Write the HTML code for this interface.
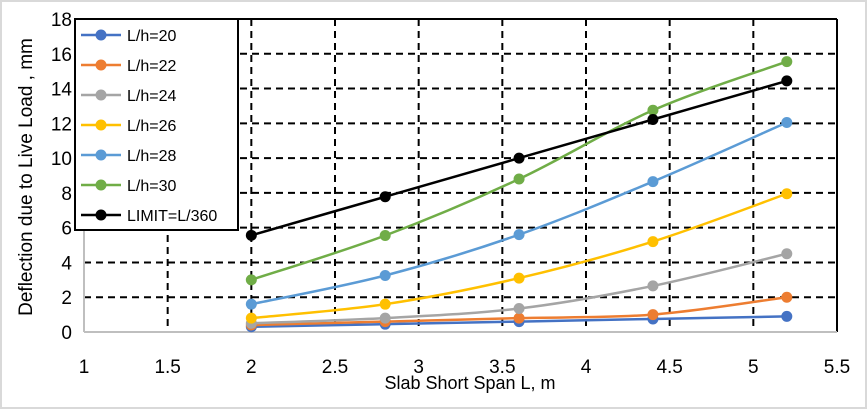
<!DOCTYPE html>
<html><head><meta charset="utf-8"><style>
html,body{margin:0;padding:0;background:#fff}
svg{display:block;font-family:"Liberation Sans",sans-serif}
</style></head><body>
<svg id="chart" width="867" height="409" viewBox="0 0 867 409" xmlns="http://www.w3.org/2000/svg">
<rect x="1" y="1" width="865" height="407" fill="#fff" stroke="#d9d9d9" stroke-width="2"/>
<g id="grid"></g>
<g id="series"></g>
<g id="ticks" font-size="19" fill="#000"></g>
<text x="470" y="389" font-size="18" text-anchor="middle">Slab Short Span L, m</text>
<text transform="translate(32,177) rotate(-90)" font-size="19" text-anchor="middle">Deflection due to Live Load , mm</text>
<g id="legend"></g>
</svg>
<script>
const xs = [2, 2.8, 3.6, 4.4, 5.2];
const names = ["L/h=20","L/h=22","L/h=24","L/h=26","L/h=28","L/h=30","LIMIT=L/360"];
const colors = ["#4472c4","#ed7d31","#a5a5a5","#ffc000","#5b9bd5","#70ad47","#000000"];
const s20 = [0.3, 0.45, 0.6, 0.75, 0.9];
const s22 = [0.4, 0.6, 0.8, 1.0, 2.0];
const s24 = [0.5, 0.8, 1.35, 2.65, 4.5];
const s26 = [0.8, 1.6, 3.1, 5.2, 7.95];
const s28 = [1.6, 3.25, 5.6, 8.65, 12.05];
const s30 = [3.0, 5.55, 8.8, 12.75, 15.55];
const sLimit = [5.56, 7.78, 10.0, 12.22, 14.44];
const xTicks = [1, 1.5, 2, 2.5, 3, 3.5, 4, 4.5, 5, 5.5];
const yTicks = [0, 2, 4, 6, 8, 10, 12, 14, 16, 18];

const X0=84, X1=837, Y0=332, Y1=19;
const xScale = v => X0 + (v-1)/(5.5-1)*(X1-X0);
const yScale = v => Y0 - v/18*(Y0-Y1);
const NS="http://www.w3.org/2000/svg";
function mk(tag, attrs, parent){const e=document.createElementNS(NS,tag);for(const k in attrs)e.setAttribute(k,attrs[k]);parent.appendChild(e);return e;}

const grid=document.getElementById('grid');
xTicks.forEach(t=>{
  if(t>1&&t<5.5){const l=mk('line',{x1:xScale(t),x2:xScale(t),y1:Y1,y2:Y0,stroke:'#000','stroke-width':2,'stroke-dasharray':'7,5'},grid);
  
  }
});
yTicks.forEach(t=>{
  if(t>0&&t<18){const l=mk('line',{x1:X0,x2:X1,y1:yScale(t),y2:yScale(t),stroke:'#000','stroke-width':2,'stroke-dasharray':'7,5'},grid);
  
  }
});
let a=mk('line',{x1:X0,x2:X1,y1:Y1,y2:Y1,stroke:'#000','stroke-width':2},grid);


a=mk('line',{x1:X1,x2:X1,y1:Y1,y2:Y0,stroke:'#000','stroke-width':2},grid);


a=mk('line',{x1:X0,x2:X1,y1:Y0,y2:Y0,stroke:'#bfbfbf','stroke-width':2},grid);


a=mk('line',{x1:X0,x2:X0,y1:Y1,y2:Y0,stroke:'#bfbfbf','stroke-width':2},grid);



const ticks=document.getElementById('ticks');
xTicks.forEach(t=>{const e=mk('text',{x:xScale(t),y:Y0+41,'text-anchor':'middle'},ticks);e.textContent=String(t);

});
yTicks.forEach(t=>{const e=mk('text',{x:X0-12,y:yScale(t)+7,'text-anchor':'end'},ticks);e.textContent=String(t);

});

function smooth(pts){
  let d=`M${pts[0][0]},${pts[0][1]}`;
  for(let i=0;i<pts.length-1;i++){
    const p0=pts[i-1]||pts[i],p1=pts[i],p2=pts[i+1],p3=pts[i+2]||p2;
    const c1=[p1[0]+(p2[0]-p0[0])/6,p1[1]+(p2[1]-p0[1])/6];
    const c2=[p2[0]-(p3[0]-p1[0])/6,p2[1]-(p3[1]-p1[1])/6];
    d+=` C${c1[0]},${c1[1]} ${c2[0]},${c2[1]} ${p2[0]},${p2[1]}`;
  }
  return d;
}
const allSeries=[s20,s22,s24,s26,s28,s30,sLimit];
const sg=document.getElementById('series');
allSeries.forEach((vals,i)=>{
  const g=mk('g',{},sg);
  
  
  const pts=vals.map((v,j)=>[xScale(xs[j]),yScale(v)]);
  const p=mk('path',{d:smooth(pts),fill:'none',stroke:colors[i],'stroke-width':2.5},g);
  
  
  pts.forEach(pt=>{const c=mk('circle',{cx:pt[0],cy:pt[1],r:5.5,fill:colors[i]},g);
  
  });
});

const lg=document.getElementById('legend');


mk('rect',{x:75,y:19,width:163,height:211,fill:'#fff',stroke:'#000','stroke-width':2},lg);
names.forEach((n,i)=>{
  const y=35+i*30;
  const g=mk('g',{},lg);
  
  
  mk('line',{x1:81,x2:121,y1:y,y2:y,stroke:colors[i],'stroke-width':2.5},g);
  mk('circle',{cx:101,cy:y,r:5.5,fill:colors[i]},g);
  const t=mk('text',{x:127,y:y+6,'font-size':16},g);t.textContent=n;
});
</script>
</body></html>
